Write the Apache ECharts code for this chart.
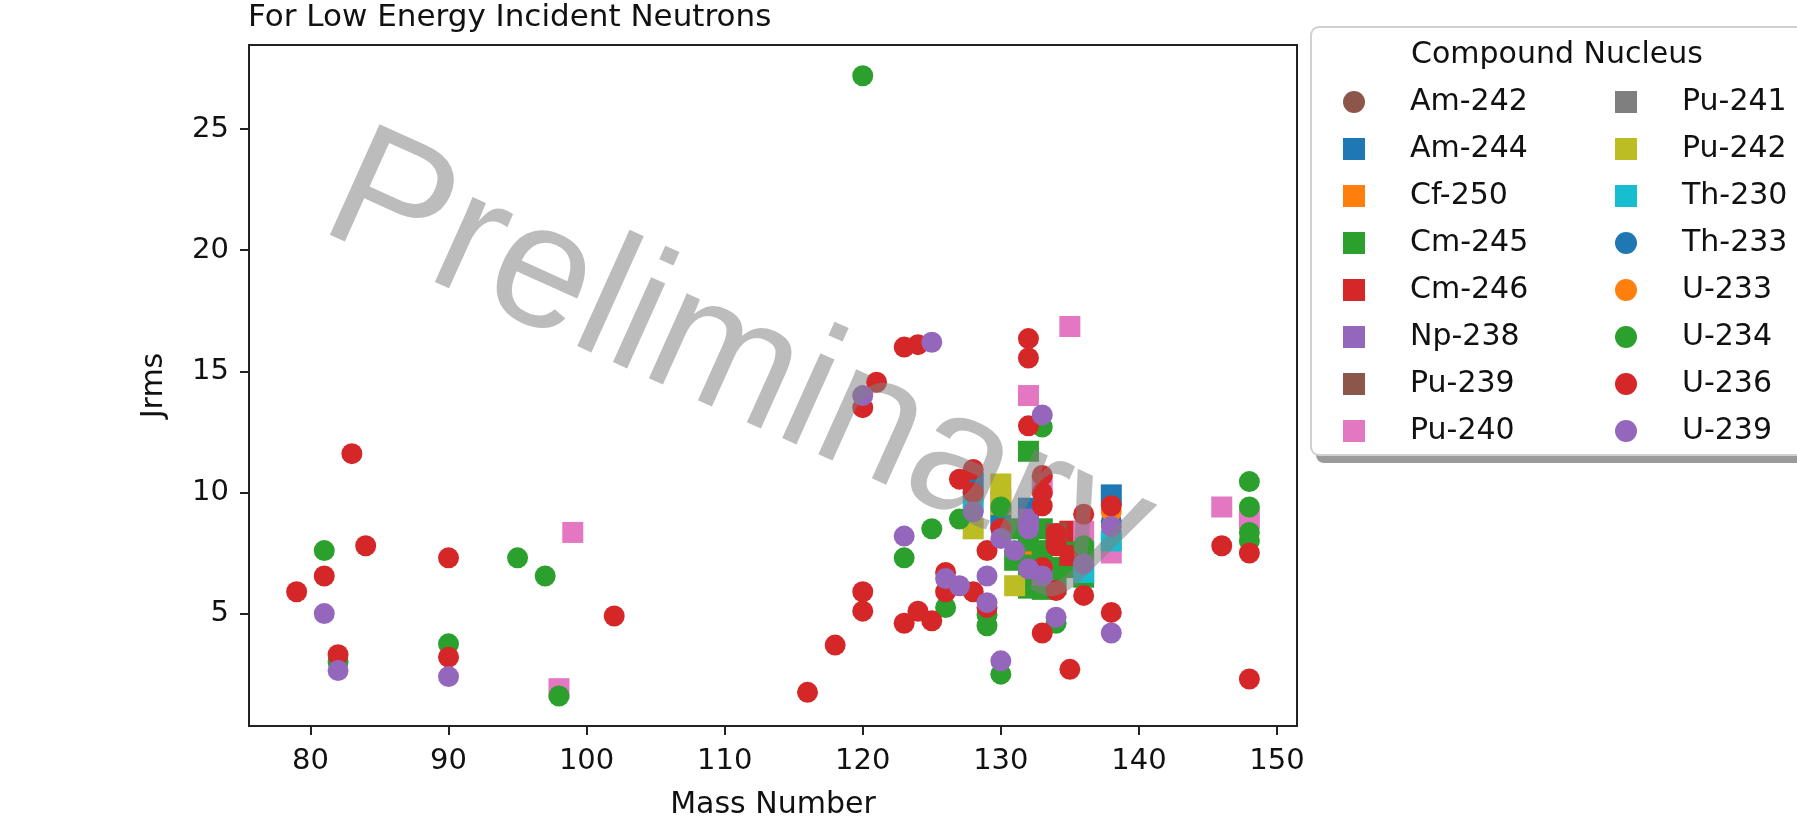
<!DOCTYPE html>
<html>
<head>
	<meta charset="utf-8" />
	<title>Jrms vs Mass Number</title>
	<script src="https://cdn.jsdelivr.net/npm/echarts@6/dist/echarts.min.js"></script>
	<style>
		html, body { margin: 0; padding: 0; background: #fff; }
		#main { width: 1797px; height: 816px; }
	</style>
</head>
<body>
	<div id="main"></div>
	<script type="text/javascript">
		// [mass number, Jrms] per compound nucleus
		var Am242 = [[132, 7.0]];
		var Am244 = [[128, 10.4], [130, 8.9], [132, 9.35], [138, 9.9]];
		var Cf250 = [[132, 7.45]];
		var Cm245 = [[132, 11.7], [131, 8.5], [132, 8.0], [132, 7.0], [132, 6.05], [133, 8.5], [133, 7.6], [133, 6.4],
			[133, 6.0], [134, 7.9], [134, 6.9], [134, 6.2], [135, 8.0], [135, 6.9], [136, 7.6], [136, 6.5], [131, 7.2]];
		var Cm246 = [[135, 8.4], [135, 7.4]];
		var Np238 = [[132, 8.9]];
		var Pu239 = [[134, 8.3]];
		var Pu240 = [[99, 8.35], [98, 1.9], [132, 14.0], [135, 16.85], [146, 9.4], [148, 8.9], [138, 7.5], [136, 8.4],
			[133, 10.3], [130, 9.7]];
		var Pu241 = [[133, 6.6]];
		var Pu242 = [[128, 8.5], [130, 10.35], [130, 9.5], [131, 6.15]];
		var Th230 = [[128, 9.6], [136, 6.7], [138, 8.0]];
		var Th233 = [[138, 8.8]];
		var U233 = [[138, 9.2]];
		var U234 = [[81, 7.6], [82, 3.0], [90, 3.75], [95, 7.3], [97, 6.55], [98, 1.6], [120, 27.2], [123, 7.3], [125, 8.5],
			[126, 5.25], [127, 8.9], [129, 4.5], [129, 4.95], [130, 9.4], [130, 2.5], [133, 12.7], [134, 4.6], [136, 7.8],
			[148, 10.45], [148, 9.4], [148, 8.35], [148, 8.0]];
		var U236 = [[79, 5.9], [81, 6.55], [82, 3.3], [83, 11.6], [84, 7.8], [90, 7.3], [90, 3.2], [102, 4.9], [116, 1.75],
			[118, 3.7], [120, 5.9], [120, 5.1], [120, 13.5], [121, 14.55], [123, 16.0], [124, 16.1], [123, 4.6], [124, 5.1],
			[125, 4.7], [126, 5.9], [126, 6.7], [127, 10.55], [128, 10.95], [128, 10.0], [128, 5.9], [129, 7.6], [129, 5.25],
			[130, 8.5], [132, 16.35], [132, 15.55], [132, 12.75], [133, 10.7], [133, 10.0], [133, 9.45], [133, 6.9],
			[133, 4.2], [134, 8.3], [134, 7.8], [134, 5.95], [135, 2.7], [136, 9.1], [136, 5.75], [138, 9.45], [138, 5.05],
			[146, 7.8], [148, 7.5], [148, 2.3]];
		var U239 = [[81, 5.0], [82, 2.65], [90, 2.4], [120, 14.0], [125, 16.2], [123, 8.2], [126, 6.45], [127, 6.15],
			[128, 9.2], [129, 6.55], [129, 5.45], [130, 8.1], [130, 3.05], [131, 7.6], [132, 8.5], [132, 6.85], [133, 6.55],
			[133, 13.2], [134, 4.85], [136, 7.05], [138, 8.6], [138, 4.2]];

		var xTicks = [80, 90, 100, 110, 120, 130, 140, 150];
		var yTicks = [5, 10, 15, 20, 25];

		var SQUARE = 'path://M0 0H10V10H0Z';
		// name, data, color, marker (same order as the legend, later ones drawn on top)
		var nuclei = [
			['Am-242', Am242, '#8c564b', 'circle'],
			['Am-244', Am244, '#1f77b4', SQUARE],
			['Cf-250', Cf250, '#ff7f0e', SQUARE],
			['Cm-245', Cm245, '#2ca02c', SQUARE],
			['Cm-246', Cm246, '#d62728', SQUARE],
			['Np-238', Np238, '#9467bd', SQUARE],
			['Pu-239', Pu239, '#8c564b', SQUARE],
			['Pu-240', Pu240, '#e377c2', SQUARE],
			['Pu-241', Pu241, '#7f7f7f', SQUARE],
			['Pu-242', Pu242, '#bcbd22', SQUARE],
			['Th-230', Th230, '#17becf', SQUARE],
			['Th-233', Th233, '#1f77b4', 'circle'],
			['U-233', U233, '#ff7f0e', 'circle'],
			['U-234', U234, '#2ca02c', 'circle'],
			['U-236', U236, '#d62728', 'circle'],
			['U-239', U239, '#9467bd', 'circle']
		];

		var font = 'DejaVu Sans';
		var ink = '#111';

		var series = nuclei.map(function (n) {
			return {
				name: n[0],
				type: 'scatter',
				data: n[1],
				symbol: n[3],
				symbolSize: 21,
				itemStyle: { color: n[2], opacity: 1 },
				emphasis: { disabled: true }
			};
		});

		// left = left edge of the marker (legend content box starts there)
		function legendCol(items, left) {
			return {
				orient: 'vertical',
				left: left,
				top: 87,
				padding: 0,
				itemWidth: 102,
				itemHeight: 22,
				itemGap: 17,
				selectedMode: false,
				textStyle: { fontFamily: font, fontSize: 30, color: ink },
				data: items.map(function (n) { return { name: n[0], icon: n[3] }; })
			};
		}

		var myChart = echarts.init(document.getElementById('main'));
		myChart.setOption({
			animation: false,
			backgroundColor: '#fff',
			title: {
				text: 'For Low Energy Incident Neutrons',
				left: 248,
				top: 2,
				padding: 0,
				textStyle: { fontFamily: font, fontSize: 31, fontWeight: 'normal', color: ink }
			},
			grid: {
				left: 249, top: 45, width: 1048, height: 681,
				outerBoundsMode: 'none',
				containLabel: false,
				show: true, borderColor: '#222', borderWidth: 2, backgroundColor: '#fff'
			},
			xAxis: {
				type: 'value',
				min: 75.55,
				max: 151.45,
				name: 'Mass Number',
				nameLocation: 'middle',
				nameGap: 64,
				nameTextStyle: { fontFamily: font, fontSize: 30, color: ink },
				axisLine: { show: false },
				splitLine: { show: false },
				axisTick: { show: true, length: 9, lineStyle: { color: '#222', width: 2 }, customValues: xTicks },
				axisLabel: { customValues: xTicks, margin: 21, fontFamily: font, fontSize: 29, color: ink }
			},
			yAxis: {
				type: 'value',
				min: 0.36,
				max: 28.47,
				name: 'Jrms',
				nameLocation: 'middle',
				nameGap: 80,
				nameTextStyle: { fontFamily: font, fontSize: 30, color: ink },
				axisLine: { show: false },
				splitLine: { show: false },
				axisTick: { show: true, length: 9, lineStyle: { color: '#222', width: 2 }, customValues: yTicks },
				axisLabel: { customValues: yTicks, margin: 20, fontFamily: font, fontSize: 29, color: ink }
			},
			legend: [legendCol(nuclei.slice(0, 8), 1343), legendCol(nuclei.slice(8), 1615)],
			graphic: [
				{ // legend frame shadow
					type: 'rect', z: -2, silent: true,
					shape: { x: 1316, y: 33, width: 520, height: 430, r: 8 },
					style: { fill: '#9a9a9a' }
				},
				{
					type: 'rect', z: -1, silent: true,
					shape: { x: 1311, y: 27, width: 520, height: 428, r: 8 },
					style: { fill: '#fff', stroke: '#d0d0d0', lineWidth: 2 }
				},
				{
					type: 'text', silent: true,
					x: 1557, y: 55,
					style: { text: 'Compound Nucleus', font: '30px "DejaVu Sans"', fill: ink, align: 'center', verticalAlign: 'middle' }
				},
				{ // watermark over the points
					type: 'text', silent: true, z: 100,
					x: 738, y: 365,
					rotation: -24.2 * Math.PI / 180,
					style: {
						text: 'Preliminary', font: '176px "Liberation Sans"',
						fill: 'rgba(128,128,128,0.53)', align: 'center', verticalAlign: 'middle'
					}
				}
			],
			series: series
		});
	</script>
</body>
</html>
